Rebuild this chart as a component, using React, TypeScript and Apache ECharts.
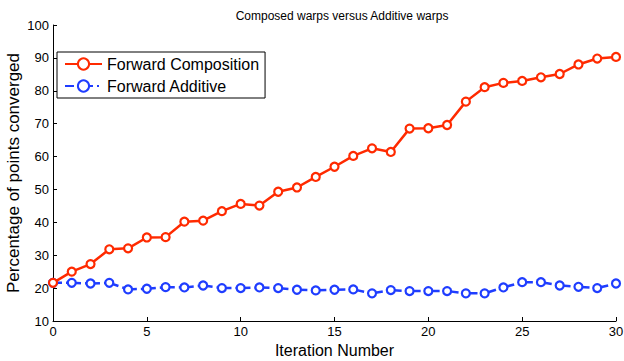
import React, { useEffect, useRef } from "react";
import * as echarts from "echarts";

const iterations = Array.from({ length: 31 }, (_, i) => i);
const forwardComposition = [
  21.6, 25.0, 27.3, 31.8, 32.1, 35.4, 35.5, 40.2, 40.5, 43.4, 45.6, 45.1, 49.3, 50.6, 53.8, 56.9,
  60.2, 62.5, 61.4, 68.5, 68.6, 69.6, 76.7, 81.1, 82.4, 83.0, 84.1, 85.1, 88.0, 89.8, 90.3,
];
const forwardAdditive = [
  21.6, 21.6, 21.4, 21.6, 19.6, 19.8, 20.3, 20.2, 20.8, 20.0, 20.0, 20.2, 20.0, 19.5, 19.3, 19.5,
  19.6, 18.4, 19.4, 19.1, 19.1, 19.1, 18.4, 18.4, 20.2, 21.8, 21.8, 20.8, 20.4, 20.0, 21.4,
];
const titleText = "Composed warps versus Additive warps";
const xName = "Iteration Number";
const yName = "Percentage of points converged";
const RED = "#ff2a00";
const BLUE = "#1f3dff";
const FONT = "Liberation Sans";

export default function App() {
  const ref = useRef<HTMLDivElement>(null);
  useEffect(() => {
    if (!ref.current) return;
    const chart = echarts.init(ref.current, undefined, { renderer: "svg" });
    const mk = (vals: number[]) => iterations.map((x, i) => [x, vals[i]]);
    chart.setOption({
      animation: false,
      backgroundColor: "#fff",
      title: {
        text: titleText,
        left: 337,
        textAlign: "center",
        top: 5,
        textStyle: { fontFamily: FONT, fontSize: 12, fontWeight: "normal", color: "#000" },
      },
      grid: { left: 53, right: 8, top: 25, bottom: 40, containLabel: false, outerBoundsMode: "none" },
      legend: {
        orient: "vertical",
        left: 57,
        top: 52,
        backgroundColor: "#fff",
        borderColor: "#000",
        borderWidth: 1,
        padding: [4, 6, 4, 7],
        itemWidth: 37,
        itemHeight: 14,
        itemGap: 6,
        textStyle: { fontFamily: FONT, fontSize: 16, color: "#000" },
        data: ["Forward Composition", "Forward Additive"],
      },
      xAxis: {
        type: "value",
        min: 0,
        max: 30,
        interval: 5,
        name: xName,
        nameLocation: "middle",
        nameGap: 21,
        nameMoveOverlap: false,
        nameTextStyle: { fontFamily: FONT, fontSize: 16, color: "#000" },
        axisLine: { show: true, lineStyle: { color: "#000", width: 1 } },
        axisTick: { show: true, inside: true, length: 4, lineStyle: { color: "#000" } },
        axisLabel: { fontFamily: FONT, fontSize: 13, color: "#000", margin: 4 },
        splitLine: { show: false },
      },
      yAxis: {
        type: "value",
        min: 10,
        max: 100,
        interval: 10,
        name: yName,
        nameLocation: "middle",
        nameGap: 31,
        nameMoveOverlap: false,
        nameTextStyle: { fontFamily: FONT, fontSize: 17, color: "#000" },
        axisLine: { show: true, lineStyle: { color: "#000", width: 1 } },
        axisTick: { show: true, inside: true, length: 4, lineStyle: { color: "#000" } },
        axisLabel: { fontFamily: FONT, fontSize: 13, color: "#000", margin: 4 },
        splitLine: { show: false },
      },
      series: [
        {
          name: "Forward Additive",
          type: "line",
          data: mk(forwardAdditive),
          symbol: "circle",
          symbolSize: 8,
          lineStyle: { color: BLUE, width: 2.5, type: [9, 4, 2, 4] },
          itemStyle: { color: "#fff", borderColor: BLUE, borderWidth: 2.2 },
          z: 2,
        },
        {
          name: "Forward Composition",
          type: "line",
          data: mk(forwardComposition),
          symbol: "circle",
          symbolSize: 8,
          lineStyle: { color: RED, width: 2.5 },
          itemStyle: { color: "#fff", borderColor: RED, borderWidth: 2.2 },
          z: 3,
        },
      ],
    });
    return () => chart.dispose();
  }, []);
  return <div ref={ref} style={{ width: 624, height: 361, position: "absolute", left: 0, top: 0 }} />;
}
